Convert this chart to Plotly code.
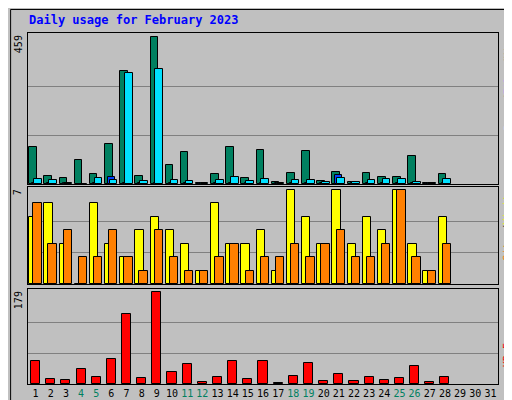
import plotly.graph_objects as go
from plotly.subplots import make_subplots

days = list(range(1, 32))
weekend = [4, 5, 11, 12, 18, 19, 25, 26]

hits = [116, 25, 19, 75, 31, 124, 354, 25, 459, 59, 100, 3, 31, 116, 19, 106, 6, 34, 103, 9, 38, 6, 34, 22, 22, 88, 3, 31]
files = [3, 3, 3, 0, 3, 22, 3, 3, 3, 3, 3, 2, 3, 3, 3, 3, 2, 3, 3, 3, 28, 2, 3, 3, 3, 3, 2, 3]
pages = [16, 13, 3, 0, 19, 13, 347, 9, 360, 13, 9, 3, 13, 22, 9, 16, 3, 13, 13, 6, 19, 6, 13, 16, 16, 6, 3, 16]
visits = [5, 6, 3, 0, 6, 3, 2, 4, 5, 4, 3, 1, 6, 3, 3, 4, 1, 7, 5, 3, 7, 3, 5, 4, 7, 3, 1, 5]
sites = [6, 3, 4, 2, 2, 4, 2, 1, 4, 2, 1, 1, 2, 3, 1, 2, 2, 3, 2, 3, 4, 2, 2, 3, 7, 2, 1, 3]
kbytes = [45, 10, 8, 30, 14, 49, 136, 12, 179, 24, 39, 4, 14, 45, 10, 45, 2, 16, 41, 6, 20, 6, 14, 8, 12, 35, 4, 14]

C = {"hits": "#008060", "files": "#0040FF", "pages": "#00E0FF",
     "visits": "#FFFF00", "sites": "#FF8000", "kb": "#FF0000", "bg": "#C0C0C0"}
FONT = "DejaVu Sans Mono, monospace"

x = days[:len(hits)]
line = dict(color="black", width=1)

fig = make_subplots(rows=3, cols=1, shared_xaxes=True, vertical_spacing=0)
fig.add_trace(go.Bar(x=x, y=hits, width=0.5, offset=-0.42, marker=dict(color=C["hits"], line=line)), 1, 1)
fig.add_trace(go.Bar(x=x, y=files, width=0.45, offset=-0.22, marker=dict(color=C["files"], line=line)), 1, 1)
fig.add_trace(go.Bar(x=x, y=pages, width=0.5, offset=-0.1, marker=dict(color=C["pages"], line=line)), 1, 1)
fig.add_trace(go.Bar(x=x, y=visits, width=0.55, offset=-0.42, marker=dict(color=C["visits"], line=line)), 2, 1)
fig.add_trace(go.Bar(x=x, y=sites, width=0.55, offset=-0.15, marker=dict(color=C["sites"], line=line)), 2, 1)
fig.add_trace(go.Bar(x=x, y=kbytes, width=0.6, offset=-0.3, marker=dict(color=C["kb"], line=line)), 3, 1)

H = 351.0
fig.update_layout(
    width=512, height=400, showlegend=False, barmode="overlay", bargap=0,
    margin=dict(l=20, r=22, t=25, b=24, autoexpand=False),
    paper_bgcolor=C["bg"], plot_bgcolor=C["bg"],
    font=dict(family=FONT, size=11, color="black"),
    yaxis=dict(domain=[200 / H, 1]),
    yaxis2=dict(domain=[100 / H, 197 / H]),
    yaxis3=dict(domain=[0, 95 / H]),
)

tickt = [f'<span style="color:#008060">{d}</span>' if d in weekend else str(d) for d in days]
for r in (1, 2, 3):
    fig.update_xaxes(range=[0.5, 31.5], showgrid=False, showline=True, mirror=True,
                     linecolor="black", linewidth=1, ticks="", zeroline=False, row=r, col=1)
fig.update_xaxes(tickmode="array", tickvals=days, ticktext=tickt, tickfont=dict(size=10),
                 tickangle=0, showticklabels=True, row=3, col=1)

for r, mx in ((1, max(hits)), (2, max(visits)), (3, max(kbytes))):
    fig.update_yaxes(range=[0, mx * 1.03], tickmode="array", tickvals=[mx / 3, 2 * mx / 3],
                     showticklabels=False, ticks="", showgrid=True, gridcolor="#808080",
                     showline=True, mirror=True, linecolor="black", zeroline=False, row=r, col=1)

def side(text, yref, y, xpos, anchor, xanchor):
    fig.add_annotation(text=text, xref="paper", yref=yref, x=xpos, y=y, textangle=-90,
                       showarrow=False, xanchor=xanchor, yanchor=anchor,
                       font=dict(family=FONT, size=10))

side(str(max(hits)), "y domain", 1, -0.005, "top", "right")
side(str(max(visits)), "y2 domain", 1, -0.005, "top", "right")
side(str(max(kbytes)), "y3 domain", 1, -0.005, "top", "right")
sl = '<span style="color:#404040">/</span>'
side(f'<span style="color:#00E0FF">Pages</span>{sl}<span style="color:#0040FF">Files</span>{sl}'
     f'<span style="color:#008060">Hits</span>', "y domain", 1, 1.005, "top", "left")
side(f'<span style="color:#FF8000">Sites</span>{sl}<span style="color:#FFFF00">Visits</span>',
     "y2 domain", 1, 1.005, "top", "left")
side('<span style="color:#FF0000">KB F</span>', "y3 domain", 0.3, 1.005, "middle", "left")

fig.add_annotation(text="<b>Daily usage for February 2023</b>", xref="paper", yref="paper",
                   x=-0.002, y=1.01, xanchor="left", yanchor="bottom", showarrow=False,
                   font=dict(family=FONT, size=12, color="#0000FF"))
fig.add_shape(type="rect", xref="paper", yref="paper", x0=-0.037, x1=1.041, y0=-0.065, y1=1.067,
              line=dict(color="black", width=1))

fig.write_html("out.html")
